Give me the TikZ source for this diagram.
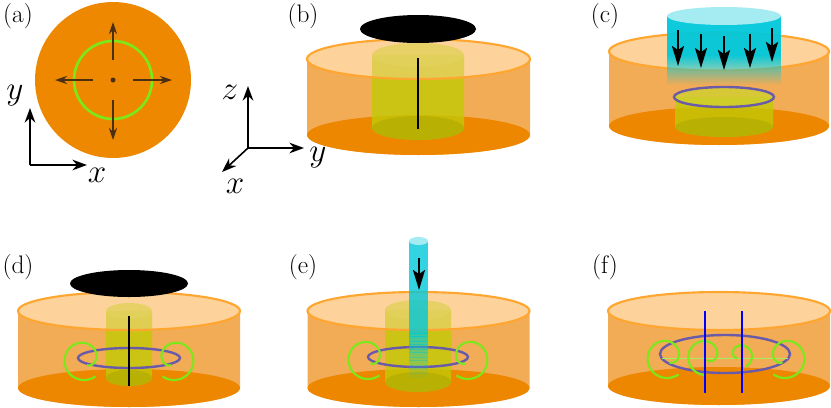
\documentclass[tikz,border=0pt]{standalone}
\usetikzlibrary{arrows.meta}
\definecolor{sideor}{HTML}{F2AC56}
\definecolor{botor}{HTML}{EE8700}
\definecolor{topor}{HTML}{FDD39B}
\definecolor{rimor}{HTML}{FFA630}
\definecolor{yel}{HTML}{C2CA05}
\definecolor{yeltop}{HTML}{D0D030}
\definecolor{purp}{HTML}{6A5AAA}
\definecolor{grn}{HTML}{7CE81C}
\definecolor{cyn}{HTML}{00C8DA}
\definecolor{cyntop}{HTML}{A4ECF2}
\definecolor{brn}{HTML}{4A3010}
\definecolor{disc}{HTML}{EE8800}
\tikzset{
  lbl/.style={font=\fontsize{19}{22}\selectfont},
  axlbl/.style={font=\fontsize{26}{30}\selectfont},
  axarrow/.style={-{Stealth[length=11pt,width=8pt]}, line width=1.2pt},
  spir/.style={grn, line width=1.6pt},
  purpring/.style={purp, line width=1.8pt},
  bigdown/.style={-{Stealth[length=15pt,width=9pt,inset=3pt]}, line width=1.6pt},
}
% outer cylinder: cx, cytop, cybot, rx, ry
\newcommand\outerside[5]{%
  \fill[sideor] (#1-#4,#2) -- (#1-#4,#3) arc[start angle=180,end angle=0,x radius=#4,y radius=#5] -- (#1+#4,#2) -- cycle;
  \fill[botor] (#1,#3) ellipse[x radius=#4,y radius=#5];
  \fill[topor] (#1,#2) ellipse[x radius=#4,y radius=#5];}
\newcommand\outertop[5]{%
  \fill[topor,fill opacity=.4] (#1,#2) ellipse[x radius=#4,y radius=#5];
  \draw[rimor,line width=1.6pt] (#1,#2) ellipse[x radius=#4,y radius=#5];}
\newcommand\yelcyl[5]{%
  \fill[yel,opacity=.8] (#1-#4,#2) -- (#1-#4,#3) arc[start angle=180,end angle=0,x radius=#4,y radius=#5] -- (#1+#4,#2) -- cycle;
  \fill[yeltop,opacity=.8] (#1,#2) ellipse[x radius=#4,y radius=#5];
  \fill[black!30!yel,opacity=.25] (#1,#3) ellipse[x radius=#4,y radius=#5];}
% spiral: cx, cy, rinner, router, t_inner, t_outer, sign
\newcommand\spiral[7]{%
  \draw[spir] plot[domain=#6:#5,samples=90,smooth,variable=\t]
   ({#1+#7*(#4-(#4-#3)*((\t-#6)/(#5-#6))^3)*cos(\t)},{#2+(#4-(#4-#3)*((\t-#6)/(#5-#6))^3)*sin(\t)});}
\begin{document}
\begin{tikzpicture}[x=0.75pt,y=0.75pt,yscale=-1]
\useasboundingbox (0,0) rectangle (831,407);
% ---------- (a)
\node[lbl] (la) at (18,16) {(a)};
\fill[disc] (113,80) circle[radius=78];
\draw[grn,line width=2pt] (113,80) circle[radius=39];
\fill[brn] (113,80) circle[radius=2.5];
\foreach \a/\b/\c/\d in {93/80/55/80, 133/80/172/80, 113/60/113/22, 113/100/113/140}
  \draw[brn,line width=0.9pt,-{Stealth[length=9pt,width=6pt]}] (\a,\b) -- (\c,\d);
\coordinate (ao) at (30,165);
\coordinate (ay) at (30,108);
\coordinate (ax) at (87,165);
\draw[axarrow] (ao) -- (ay);
\draw[axarrow] (ao) -- (ax);
\node[axlbl] (lay) at (15,96) {$y$};
\node[axlbl] (lax) at (97,175) {$x$};
% ---------- axes xyz
\coordinate (bo) at (248,148);
\coordinate (bz) at (248,86);
\coordinate (by) at (304,148);
\coordinate (bx) at (222,172);
\draw[axarrow] (bo) -- (bz);
\draw[axarrow] (bo) -- (by);
\draw[axarrow] (bo) -- (bx);
\node[axlbl] (lbz) at (230,92) {$z$};
\node[axlbl] (lby) at (318,158) {$y$};
\node[axlbl] (lbx) at (235,186) {$x$};
% ---------- (b)
\node[lbl] (lb) at (303,16) {(b)};
\outerside{418.5}{59}{135}{111.5}{20}
\yelcyl{418}{55}{128}{46}{12}
\outertop{418.5}{59}{135}{111.5}{20}
\fill[black] (418,29) ellipse[x radius=58,y radius=14];
\coordinate (b1) at (418,58); \coordinate (b2) at (418,129);
\draw[black,line width=1.3pt] (b1) -- (b2);
% ---------- (c)
\node[lbl] (lc) at (605,16) {(c)};
\outerside{719}{51.5}{126}{110}{19}
\yelcyl{724}{97}{127}{49}{10}
\draw[purpring] (724,97) ellipse[x radius=50,y radius=10];
\outertop{719}{51.5}{126}{110}{19}
\fill[cyn,opacity=.95] (667,16) rectangle (781,55);
\foreach \i in {0,...,29}
  \fill[cyn,opacity={0.95*(1-\i/30)}] (667,55+\i) rectangle (781,56.2+\i);
\fill[cyntop] (724,16) ellipse[x radius=57,y radius=9];
\foreach \x/\ya/\yb in {678/30/66, 701/34/68, 724/36/70, 750/34/68, 772/28/62}
  \draw[bigdown] (\x,\ya) -- (\x,\yb);
% ---------- (d)
\node[lbl] (ld) at (18,267) {(d)};
\outerside{129}{311}{388}{111}{19}
\yelcyl{129}{311}{378}{23}{8}
\draw[purpring] (129,358) ellipse[x radius=51,y radius=10];
\spiral{84}{360}{6}{20}{420}{55}{1}
\spiral{174}{360}{6}{20}{420}{55}{-1}
\outertop{129}{311}{388}{111}{19}
\fill[black] (129,283.5) ellipse[x radius=59,y radius=13.5];
\coordinate (d1) at (129,316); \coordinate (d2) at (129,386);
\draw[black,line width=1.3pt] (d1) -- (d2);
% ---------- (e)
\node[lbl] (le) at (303,267) {(e)};
\outerside{418.5}{311}{388}{111}{19}
\yelcyl{418}{310}{382}{33}{10}
\draw[purpring] (418,357) ellipse[x radius=50,y radius=10];
\spiral{368}{359}{5}{20}{420}{55}{1}
\spiral{468}{359}{5}{20}{420}{55}{-1}
\outertop{418.5}{311}{388}{111}{19}
\fill[cyn,opacity=.8] (409,241) rectangle (428,330);
\foreach \i in {0,...,29}
  \fill[cyn,opacity={0.8*(1-\i/30)}] (409,330+\i*1.6) rectangle (428,332+\i*1.6);
\fill[cyntop] (418.5,241) ellipse[x radius=9.5,y radius=4];
\coordinate (e1) at (419,258); \coordinate (e2) at (419,290);
\draw[bigdown] (e1) -- (e2);
% ---------- (f)
\node[lbl] (lf) at (605,267) {(f)};
\outerside{719}{311}{386}{111}{19}
\draw[purpring] (725,354) ellipse[x radius=65,y radius=19];
\draw[grn!70!white,line width=0.5pt] (662,358) -- (788,358);
\spiral{667}{358}{5}{20}{420}{55}{1}
\spiral{785}{358}{5}{20}{420}{55}{-1}
\spiral{706}{357}{3}{18}{430}{90}{1}
\spiral{740}{356}{3}{12}{400}{120}{-1}
\outertop{719}{311}{386}{111}{19}
\coordinate (f1) at (705,311); \coordinate (f2) at (705,393);
\coordinate (f3) at (742,311); \coordinate (f4) at (742,393);
\draw[blue,line width=1.6pt] (f1) -- (f2);
\draw[blue,line width=1.6pt] (f3) -- (f4);
\end{tikzpicture}
\end{document}
